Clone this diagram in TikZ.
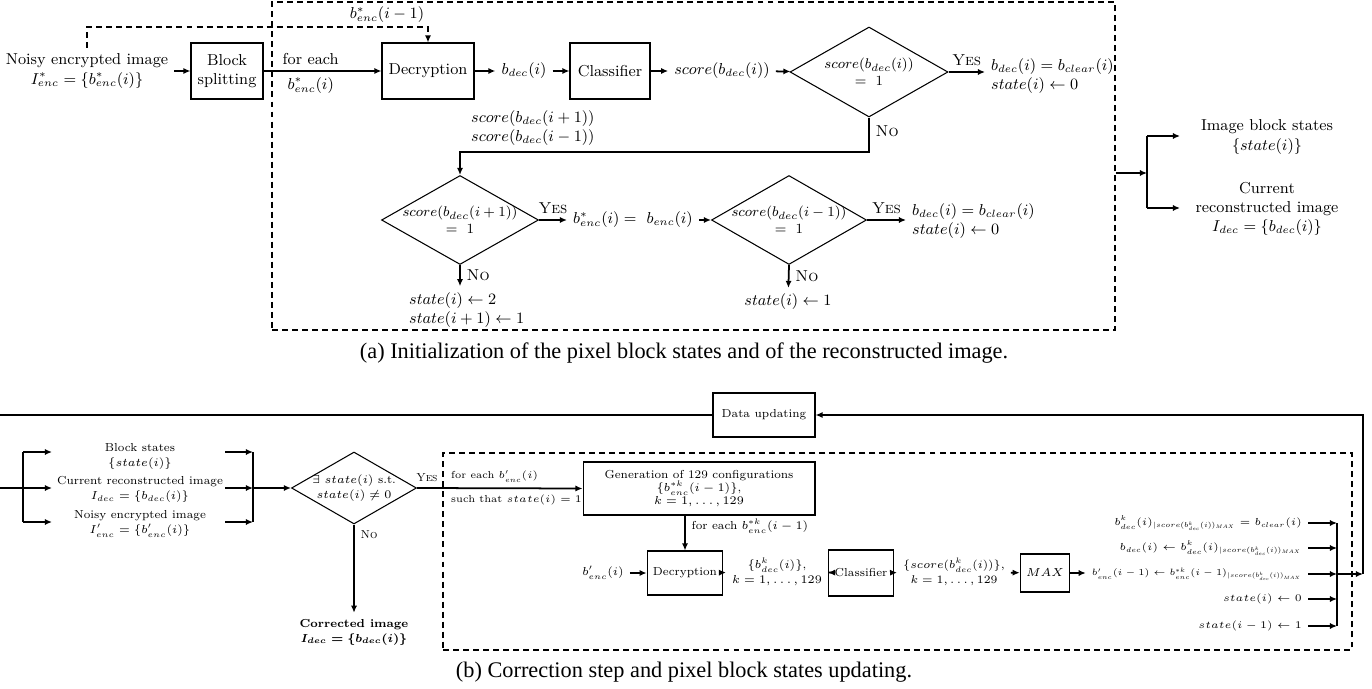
\documentclass[tikz,border=0pt]{standalone}
\usepackage{fix-cm}
\usepackage{amsmath}
\usepackage{amsfonts}
\usepackage{fontspec}
\newfontfamily\capfont{Liberation Serif}
\usetikzlibrary{shapes.geometric,arrows.meta}

\begin{document}
\begin{tikzpicture}
  [x=0.02cm,y=-0.02cm,
   every node/.style={font=\small},
   blk/.style={draw,line width=0.6pt,rectangle,minimum height=1.12cm,align=center},
   dmd/.style={draw,line width=0.6pt,diamond,inner sep=0pt},
   dlbl/.style={align=center,font=\footnotesize},
   dbox/.style={draw,line width=1pt,dash pattern=on 3.4pt off 2.3pt,inner sep=0pt},
   flow/.style={line width=1pt,-{Latex[length=4pt,width=3.5pt]}},
   dflow/.style={flow,dash pattern=on 3.4pt off 2.3pt},
   wire/.style={line width=1pt},
   sml/.style={font=\fontsize{6.6}{8.6}\selectfont},
   tny/.style={font=\fontsize{5.8}{7.5}\selectfont},
   captxt/.style={font=\capfont\fontsize{12.7}{15}\selectfont}]
  \useasboundingbox (0,0) rectangle (1372,689);

  % (a) initialization
  \node[dbox,minimum width=16.86cm,minimum height=6.56cm] (boxa) at (693.5,166) {};
  \node[align=center] (noisy) at (87,71) {Noisy encrypted image\\ $I^*_{enc}=\{b^*_{enc}(i)\}$};
  \node[blk,minimum width=1.44cm] (split) at (227,71) {Block\\ splitting};
  \node[blk,minimum width=1.84cm] (dec1) at (428,71) {Decryption};
  \node (bdec) at (524,71) {$b_{dec}(i)$};
  \node[blk,minimum width=1.6cm] (cls1) at (610,71) {Classifier};
  \node (sc1) at (722,71) {$score(b_{dec}(i))$};
  \node[dmd,minimum width=3.16cm,minimum height=1.8cm,
        label={[dlbl]center:{$score(b_{dec}(i))$\\ $=\ 1$}}] (d1) at (869,72) {};
  \node[align=left,anchor=west] (res1) at (985,76) {$b_{dec}(i)=b_{clear}(i)$\\ $state(i)\leftarrow 0$};
  \node[align=left,anchor=west] (nbr) at (465,128) {$score(b_{dec}(i+1))$\\ $score(b_{dec}(i-1))$};
  \node[dmd,minimum width=3.14cm,minimum height=1.78cm,
        label={[dlbl]center:{$score(b_{dec}(i+1))$\\ $=\ 1$}}] (d2) at (460,220) {};
  \node (benc) at (633,220) {$b^*_{enc}(i)=\ b_{enc}(i)$};
  \node[dmd,minimum width=3.1cm,minimum height=1.78cm,
        label={[dlbl]center:{$score(b_{dec}(i-1))$\\ $=\ 1$}}] (d3) at (789,220) {};
  \node[align=left,anchor=west] (res2) at (906,221) {$b_{dec}(i)=b_{clear}(i)$\\ $state(i)\leftarrow 0$};
  \node[align=left,anchor=west] (st2) at (403,310) {$state(i)\leftarrow 2$\\ $state(i+1)\leftarrow 1$};
  \node (st3) at (788,302) {$state(i)\leftarrow 1$};
  \node (fblbl) at (387,15) {$b^*_{enc}(i-1)$};
  \node[align=center] (stA) at (1267,137) {Image block states\\ $\{state(i)\}$};
  \node[align=center] (imA) at (1267,209) {Current\\ reconstructed image\\ $I_{dec}=\{b_{dec}(i)\}$};
  \node[captxt] (capA) at (684,353) {(a) Initialization of the pixel block states and of the reconstructed image.};

  \coordinate (fb) at (87,27);
  \coordinate (tn) at (869,152);
  \coordinate (splA) at (1147,173);
  \coordinate (brA1) at (1147,136);
  \coordinate (brA2) at (1147,208);
  \coordinate (oA1) at (1180,136);
  \coordinate (oA2) at (1180,208);

  \draw[dflow] (noisy.north) -- (fb) -| (dec1.north);
  \draw[flow] (split) -- node[pos=0.4,above] (fe1) {for each} node[pos=0.4,below] (fe1b) {$b^*_{enc}(i)$} (dec1);
  \foreach \from/\to in {noisy/split,dec1/bdec,bdec/cls1,cls1/sc1,sc1/d1,benc/d3}
    \draw[flow] (\from) -- (\to);
  \draw[flow] (d1.east) -- node[above] (y1) {\textsc{Yes}} (d1.east -| res1.west);
  \draw[flow] (d1.south) -- node[pos=0.4,right] (n1) {\textsc{No}} (tn) -| (d2.north);
  \draw[flow] (d2.east) -- node[above] (y2) {\textsc{Yes}} (benc);
  \draw[flow] (d3.east) -- node[above] (y3) {\textsc{Yes}} (d3.east -| res2.west);
  \draw[flow] (d2.south) -- node[right] (n2) {\textsc{No}} (d2.south |- st2.north);
  \draw[flow] (d3.south) -- node[right] (n3) {\textsc{No}} (st3);
  \draw[flow] (boxa.east |- splA) -- (splA);
  \draw[wire] (brA1) -- (brA2);
  \draw[flow] (brA1) -- (oA1);
  \draw[flow] (brA2) -- (oA2);

  % (b) correction
  \node[dbox,minimum width=18.18cm,minimum height=3.94cm] (boxb) at (897.5,551.5) {};
  \node[blk,sml,minimum width=2.04cm,minimum height=0.88cm] (dupd) at (764,415) {Data updating};
  \node[sml,align=center] (inb1) at (140,456) {Block states\\ $\{state(i)\}$};
  \node[sml,align=center] (inb2) at (140,489) {Current reconstructed image\\ $I_{dec}=\{b_{dec}(i)\}$};
  \node[sml,align=center] (inb3) at (140,524) {Noisy encrypted image\\ $I'_{enc}=\{b'_{enc}(i)\}$};
  \node[dmd,minimum width=2.5cm,minimum height=1.44cm,
        label={[sml,align=center]center:{$\exists\ state(i)$ s.t.\\ $state(i)\neq 0$}}] (d4) at (354,488) {};
  \node[blk,sml,minimum width=4.64cm,minimum height=1.06cm] (gen) at (699,488.5)
    {Generation of 129 configurations\\[-1pt] $\{b^{*k}_{enc}(i-1)\}$,\\[-1pt] $k=1,\dots,129$};
  \node[blk,sml,minimum width=1.5cm,minimum height=0.88cm] (dec2) at (685,573) {Decryption};
  \node[sml] (bin) at (603,573) {$b'_{enc}(i)$};
  \node[sml,align=center] (bk) at (777,572) {$\{b^{k}_{dec}(i)\}$,\\ $k=1,\dots,129$};
  \node[blk,sml,minimum width=1.3cm,minimum height=0.92cm] (cls2) at (861,573) {Classifier};
  \node[align=center,font=\fontsize{6.4}{8.4}\selectfont] (sk) at (954,572) {$\{score(b^{k}_{dec}(i))\}$,\\ $k=1,\dots,129$};
  \node[blk,sml,minimum width=0.88cm,minimum height=0.76cm] (mx) at (1045,573) {$MAX$};
  \node[tny,anchor=east] (r1) at (1308,523) {$b^{k}_{dec}(i)_{|score(b^{k}_{dec}(i))_{MAX}}=b_{clear}(i)$};
  \node[tny,anchor=east] (r2) at (1308,548) {$b_{dec}(i)\leftarrow b^{k}_{dec}(i)_{|score(b^{k}_{dec}(i))_{MAX}}$};
  \node[anchor=east,font=\fontsize{5.2}{7}\selectfont] (r3) at (1308,574)
    {$b'_{enc}(i-1)\leftarrow b^{*k}_{enc}(i-1)_{|score(b^{k}_{dec}(i))_{MAX}}$};
  \node[tny,anchor=east] (r4) at (1308,599) {$state(i)\leftarrow 0$};
  \node[tny,anchor=east] (r5) at (1308,626) {$state(i-1)\leftarrow 1$};
  \node[tny,anchor=south west] (fe2) at (445,489) {for each $b'_{enc}(i)$};
  \node[tny,anchor=north west] (such) at (445,489) {such that $state(i)=1$};
  \node[align=center,font=\fontsize{6.6}{8.6}\selectfont\bfseries] (corr) at (354,632) {Corrected image\\ $\boldsymbol{I_{dec}=\{b_{dec}(i)\}}$};
  \node[captxt] (capB) at (684,672) {(b) Correction step and pixel block states updating.};

  \coordinate (lft) at (-2,488);
  \coordinate (brB) at (23,488);
  \coordinate (comb) at (1337,574);
  \coordinate (ret) at (1363,574);
  \foreach \i/\y in {1/452,2/488,3/522} {
    \coordinate (bl\i) at (23,\y);
    \coordinate (ol\i) at (52,\y);
    \coordinate (mi\i) at (225,\y);
    \coordinate (me\i) at (253,\y);
    \draw[flow] (bl\i) -- (ol\i);
    \draw[flow] (mi\i) -- (me\i);
  }

  \draw[wire] (dupd.west) -| (lft) -- (brB);
  \draw[wire] (bl1) -- (bl3);
  \draw[wire] (me1) -- (me3);
  \draw[flow] (me2) -- (d4);
  \draw[flow] (d4.east) -- node[pos=0.06,above,sml] (y4) {\textsc{Yes}} (gen.west);
  \draw[flow] (d4.south) -- node[pos=0.12,right,sml] (n4) {\textsc{No}} (corr);
  \draw[flow] (dec2.north |- gen.south) -- node[pos=0.3,right,sml] (fe3) {for each $b^{*k}_{enc}(i-1)$} (dec2.north);
  \foreach \from/\to in {bin/dec2,dec2/bk,bk/cls2,cls2/sk,sk/mx}
    \draw[flow] (\from) -- (\to);
  \draw[flow] (mx.east) -- (mx.east -| r3.west);
  \foreach \i in {1,...,5}
    \draw[flow] (r\i.east) -- (r\i.east -| comb);
  \draw[wire] (r1.east -| comb) -- (r5.east -| comb);
  \draw[flow] (comb) -- (ret);
  \draw[flow] (ret) |- (dupd.east);
\end{tikzpicture}
\end{document}
